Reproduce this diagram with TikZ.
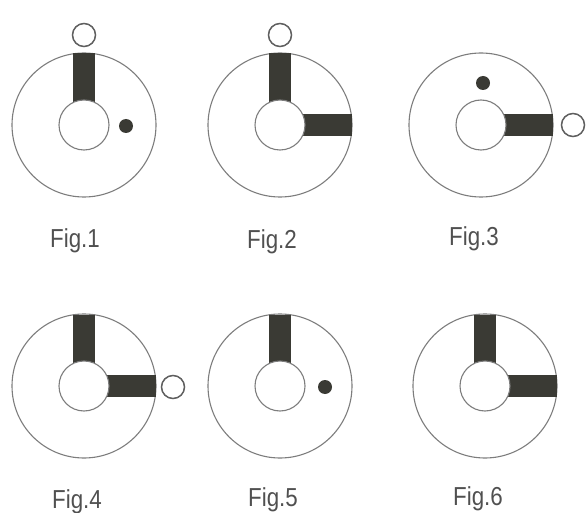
\documentclass[tikz,border=0pt]{standalone}
\usepackage{fontspec}
\setmainfont{Liberation Sans}
\definecolor{ringgray}{RGB}{125,125,125}
\definecolor{bardark}{RGB}{58,58,52}
\definecolor{ballgray}{RGB}{95,95,95}
\definecolor{labelgray}{RGB}{80,80,80}
\tikzset{
  ring/.style={draw=ringgray, line width=1.1pt},
  spoke/.style={fill=bardark},
  hub/.style={draw=ringgray, fill=white, line width=1.1pt},
  ball/.style={draw=ballgray, fill=white, line width=1.5pt},
  blackdot/.style={fill=bardark},
  lbl/.style={font=\fontsize{26}{26}\selectfont, text=labelgray, inner sep=0pt, anchor=base, xscale=0.86}
}
\begin{document}
\begin{tikzpicture}[x=1pt,y=-1pt]
\useasboundingbox (0,0) rectangle (586,513);
% Fig.1
\begin{scope}[shift={(84,125)}]
  \draw[ring] (0,0) circle[radius=72];
  \fill[spoke] (-11,-71.5) rectangle (11,0);
  \draw[hub] (0,0) circle[radius=25];
  \draw[ball] (0,-90) circle[radius=11.5];
  \fill[blackdot] (42,1) circle[radius=7];
\end{scope}
\node[lbl] (f1) at (75,247) {Fig.1};
% Fig.2
\begin{scope}[shift={(280,125)}]
  \draw[ring] (0,0) circle[radius=72];
  \fill[spoke] (-11,-71.5) rectangle (11,0);
  \fill[spoke] (0,-11) rectangle (71.5,11);
  \draw[hub] (0,0) circle[radius=25];
  \draw[ball] (0,-90) circle[radius=11.5];
\end{scope}
\node[lbl] (f2) at (272,248) {Fig.2};
% Fig.3
\begin{scope}[shift={(481,125)}]
  \draw[ring] (0,0) circle[radius=72];
  \fill[spoke] (0,-11) rectangle (71.5,11);
  \draw[hub] (0,0) circle[radius=25];
  \draw[ball] (92,0) circle[radius=11.5];
  \fill[blackdot] (2,-42) circle[radius=7];
\end{scope}
\node[lbl] (f3) at (474,245) {Fig.3};
% Fig.4
\begin{scope}[shift={(84,386)}]
  \draw[ring] (0,0) circle[radius=72];
  \fill[spoke] (-11,-71.5) rectangle (11,0);
  \fill[spoke] (0,-11) rectangle (71.5,11);
  \draw[hub] (0,0) circle[radius=25];
  \draw[ball] (89,1) circle[radius=11.5];
\end{scope}
\node[lbl] (f4) at (77,508) {Fig.4};
% Fig.5
\begin{scope}[shift={(280,386)}]
  \draw[ring] (0,0) circle[radius=72];
  \fill[spoke] (-11,-71.5) rectangle (11,0);
  \draw[hub] (0,0) circle[radius=25];
  \fill[blackdot] (45,1) circle[radius=7];
\end{scope}
\node[lbl] (f5) at (273,506) {Fig.5};
% Fig.6
\begin{scope}[shift={(485,386)}]
  \draw[ring] (0,0) circle[radius=72];
  \fill[spoke] (-11,-71.5) rectangle (11,0);
  \fill[spoke] (0,-11) rectangle (71.5,11);
  \draw[hub] (0,0) circle[radius=25];
\end{scope}
\node[lbl] (f6) at (478,505) {Fig.6};
\end{tikzpicture}
\end{document}
